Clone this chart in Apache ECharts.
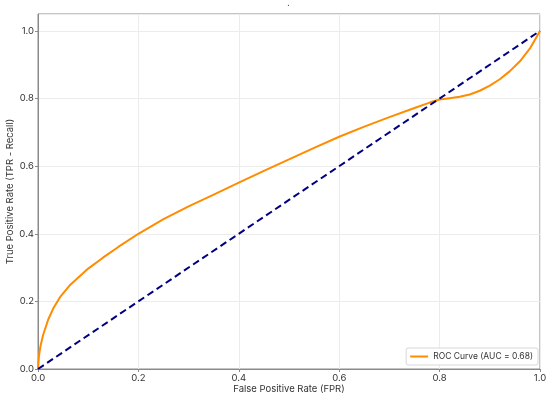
<!DOCTYPE html>
<html>
<head>
<meta charset="utf-8">
<script src="https://cdn.jsdelivr.net/npm/echarts@6/dist/echarts.min.js"></script>
<style>
html,body{margin:0;padding:0;background:#fff;}
#chart{width:550px;height:400px;}
</style>
</head>
<body>
<div id="chart"></div>
<script>
// ROC curve data
const fpr = [0, 0.002, 0.005, 0.01, 0.02, 0.03, 0.045, 0.065, 0.1, 0.13, 0.16, 0.2, 0.25, 0.3, 0.35, 0.4, 0.45, 0.5, 0.55, 0.6, 0.65, 0.7, 0.75, 0.78, 0.8, 0.82, 0.84, 0.86, 0.88, 0.9, 0.92, 0.94, 0.96, 0.98, 1.0];
const tpr = [0, 0.04, 0.068, 0.1, 0.145, 0.178, 0.215, 0.25, 0.297, 0.33, 0.361, 0.40, 0.443, 0.481, 0.516, 0.551, 0.586, 0.62, 0.654, 0.687, 0.717, 0.745, 0.772, 0.788, 0.797, 0.801, 0.805, 0.812, 0.823, 0.838, 0.857, 0.881, 0.91, 0.948, 1.0];
const diagX = [0, 1];
const diagY = [0, 1];
const rocName = 'ROC Curve (AUC = 0.68)';
const xTitle = 'False Positive Rate (FPR)';
const yTitle = 'True Positive Rate (TPR - Recall)';
const chartTitle = '.';

const font = 'Inter, "Noto Sans", sans-serif';
const chart = echarts.init(document.getElementById('chart'));
chart.setOption({
  animation: false,
  backgroundColor: '#fff',
  title: {
    text: chartTitle,
    left: 282, top: -7,
    textStyle: {fontSize: 10, color: '#333', fontWeight: 'normal', fontFamily: font}
  },
  grid: {
    left: 38, right: 10, top: 14, bottom: 31,
    containLabel: false, outerBoundsMode: 'none',
    show: true, borderColor: '#8a8a8a', borderWidth: 1, backgroundColor: 'transparent'
  },
  legend: {
    right: 12, bottom: 35,
    orient: 'vertical',
    data: [rocName],
    itemWidth: 18, itemHeight: 2, itemGap: 4,
    padding: [4, 5, 4, 4],
    backgroundColor: '#fff',
    borderColor: '#d8d8d8', borderWidth: 1, borderRadius: 2,
    textStyle: {fontSize: 8.5, color: '#333', fontFamily: font},
    icon: 'rect'
  },
  xAxis: {
    type: 'value', min: 0, max: 1, interval: 0.2,
    name: xTitle, nameLocation: 'middle', nameGap: 15, nameMoveOverlap: false,
    nameTextStyle: {fontSize: 9.5, color: '#333', fontFamily: font},
    axisLine: {show: true, lineStyle: {color: '#8a8a8a'}},
    axisTick: {show: true, length: 3, lineStyle: {color: '#8a8a8a'}},
    axisLabel: {fontSize: 9.5, color: '#333', margin: 4, fontFamily: font,
      formatter: v => v.toFixed(1)},
    splitLine: {show: true, lineStyle: {color: '#ececec'}}
  },
  yAxis: {
    type: 'value', min: 0, max: 1.05, interval: 0.2,
    name: yTitle, nameLocation: 'middle', nameGap: 23, nameRotate: 90, nameMoveOverlap: false,
    nameTextStyle: {fontSize: 9.5, color: '#333', fontFamily: font},
    axisLine: {show: true, lineStyle: {color: '#8a8a8a'}},
    axisTick: {show: true, length: 3, lineStyle: {color: '#8a8a8a'}},
    axisLabel: {fontSize: 9.5, color: '#333', margin: 4, fontFamily: font,
      showMaxLabel: false, formatter: v => v.toFixed(1)},
    splitLine: {show: true, lineStyle: {color: '#ececec'}}
  },
  series: [
    {
      name: rocName,
      type: 'line',
      data: fpr.map((x, i) => [x, tpr[i]]),
      showSymbol: false,
      smooth: false,
      lineStyle: {color: '#ff8c00', width: 2, join: 'round'},
      itemStyle: {color: '#ff8c00'},
      z: 3
    },
    {
      name: 'diag',
      type: 'line',
      data: diagX.map((x, i) => [x, diagY[i]]),
      showSymbol: false,
      lineStyle: {color: '#000080', width: 2, type: [7, 4]},
      itemStyle: {color: '#000080'},
      z: 4
    }
  ]
});
</script>
</body>
</html>
